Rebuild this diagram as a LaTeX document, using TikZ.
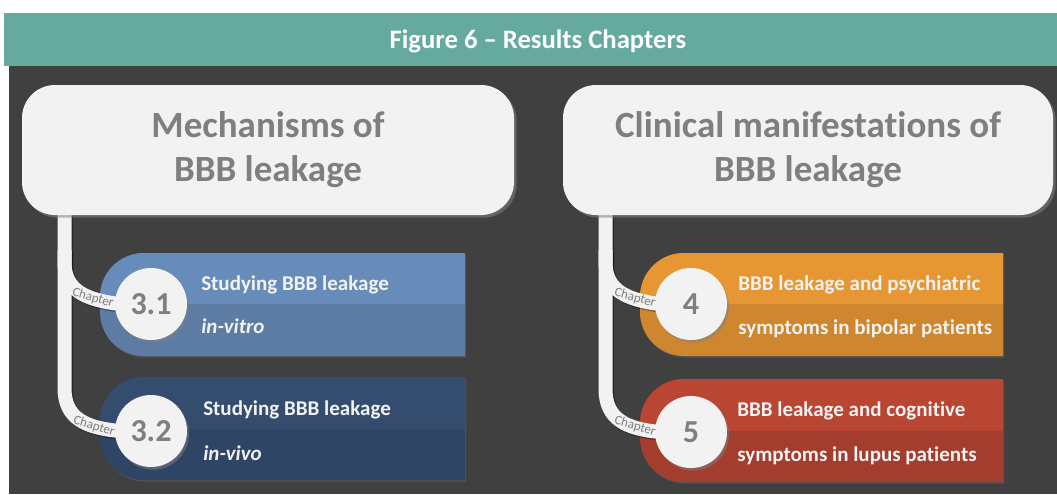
\documentclass[tikz,border=0pt]{standalone}
\usepackage{fontspec}
\setmainfont{Carlito}[Ligatures=NoCommon]
\usetikzlibrary{shadows}

\definecolor{bgdark}{HTML}{404040}
\definecolor{headteal}{HTML}{66A99F}
\definecolor{boxfill}{HTML}{F2F2F2}
\definecolor{boxtext}{HTML}{7F7F7F}
\definecolor{bandtext}{HTML}{F2F2F2}
\definecolor{blueTop}{HTML}{688CB9}
\definecolor{blueBot}{HTML}{5C7CA4}
\definecolor{navyTop}{HTML}{344D6F}
\definecolor{navyBot}{HTML}{2E4565}
\definecolor{orangeTop}{HTML}{E79634}
\definecolor{orangeBot}{HTML}{CF872F}
\definecolor{redTop}{HTML}{B84632}
\definecolor{redBot}{HTML}{A33D2E}

\pgfdeclarelayer{bands}
\pgfdeclarelayer{ribbons}
\pgfsetlayers{bands,ribbons,main}

% outline of a chapter band: rounded on the left, square on the right
% #1 x left, #2 y top, #3 x right, #4 y bottom, #5 corner radius
\newcommand\bandpath[5]{%
  (#3,#2) -- ({#1+#5},#2)
  .. controls ({#1+0.4477*#5},#2) and (#1,{#2+0.4477*#5}) .. (#1,{#2+#5})
  -- (#1,{#4-#5})
  .. controls (#1,{#4-0.4477*#5}) and ({#1+0.4477*#5},#4) .. ({#1+#5},#4)
  -- (#3,#4) -- cycle}

% two-tone band: #1..#4 box, #5 y of the split, #6 upper colour, #7 lower colour
\newcommand\chapband[7]{%
  \fill[#7, bandshadow] \bandpath{#1}{#2}{#3}{#4}{44};
  \begin{scope}
    \clip \bandpath{#1}{#2}{#3}{#4}{44};
    \fill[#6] (#1,#2) rectangle (#3,#5);
  \end{scope}}

\begin{document}
\begin{tikzpicture}[x=0.75pt,y=-0.75pt,
  headline/.style={font=\fontsize{20pt}{24pt}\selectfont\bfseries, text=white, anchor=base, inner sep=0pt},
  bigbox/.style={fill=boxfill, rounded corners=24.75pt, minimum height=97.5pt, inner sep=0pt,
    align=center, text=boxtext, font=\fontsize{27.75pt}{33pt}\selectfont\bfseries,
    drop shadow={opacity=0.55, shadow xshift=2pt, shadow yshift=-2pt}},
  chapcircle/.style={circle, fill=boxfill, minimum size=54pt, inner sep=0pt, text=boxtext,
    font=\fontsize{24pt}{28pt}\selectfont\bfseries,
    drop shadow={opacity=0.5, shadow xshift=1.5pt, shadow yshift=-2pt}},
  chaplabel/.style={text=boxtext, font=\fontsize{9.8pt}{11pt}\selectfont, inner sep=0pt},
  bandtext/.style={text=bandtext, font=\fontsize{15.75pt}{18pt}\selectfont\bfseries,
    anchor=base west, inner sep=0pt},
  bandshadow/.style={drop shadow={opacity=0.3, shadow xshift=0.8pt, shadow yshift=-1.2pt}},
  ribbon/.style={line width=10.5pt, draw=boxfill},
  ribbonshadow/.style={line width=10.5pt, draw=black, opacity=0.35,
    transform canvas={xshift=1.2pt, yshift=-1.2pt}},
]
\useasboundingbox (0,0) rectangle (1057,494);

% page, heading strip and title
\begin{pgfonlayer}{bands}
  \fill[white] (0,0) rectangle (1057,494);
  \fill[bgdark] (9,66) rectangle (1057,494);
  \fill[headteal] (4,13) rectangle (1057,66);
\end{pgfonlayer}
\node[headline] (title) at (538,48) {Figure 6 – Results Chapters};

% section headers
\node[bigbox, minimum width=369pt] (mech) at (268,150) {Mechanisms of\\BBB leakage};
\node[bigbox, minimum width=367.5pt] (clin) at (808,150) {Clinical manifestations of\\BBB leakage};

% chapter numbers
\node[chapcircle] (c31) at (151,304) {3.1};
\node[chapcircle] (c32) at (151,431) {3.2};
\node[chapcircle] (c4) at (691,304) {4};
\node[chapcircle] (c5) at (691,432) {5};

% stem tops, hidden under the header boxes
\coordinate (stemL) at (64.5,200);
\coordinate (stemR) at (605.5,200);

% coloured chapter bands
\begin{pgfonlayer}{bands}
  \chapband{100}{253}{465}{356}{304}{blueTop}{blueBot}
  \chapband{100}{377}{465}{480}{429}{navyTop}{navyBot}
  \chapband{640}{253}{1003}{356}{304}{orangeTop}{orangeBot}
  \chapband{640}{379}{1003}{482}{431}{redTop}{redBot}
\end{pgfonlayer}

% white ribbons from each header down to its chapters
\begin{pgfonlayer}{ribbons}
  \foreach \sty in {ribbonshadow, ribbon} {
    \draw[\sty] (64.5,250) -- (64.5,262) .. controls (64.5,290) and (85,300) .. ([xshift=4pt]c31.west);
    \draw[\sty] (stemL) -- (64.5,388) .. controls (64.5,418) and (85,428) .. ([xshift=4pt]c32.west);
    \draw[\sty] (605.5,250) -- (605.5,262) .. controls (605.5,290) and (626,300) .. ([xshift=4pt]c4.west);
    \draw[\sty] (stemR) -- (605.5,389) .. controls (605.5,419) and (626,429) .. ([xshift=4pt]c5.west);
  }
\end{pgfonlayer}

% ribbon labels
\node[chaplabel, rotate=-16] (l31) at (93,298) {Chapter};
\node[chaplabel, rotate=-17] (l32) at (94,426) {Chapter};
\node[chaplabel, rotate=-16] (l4) at (635,298) {Chapter};
\node[chaplabel, rotate=-17] (l5) at (635,426) {Chapter};

% chapter titles
\node[bandtext] (t31a) at (201,290) {Studying BBB leakage};
\node[bandtext] (t31b) at (201,333) {\itshape in-vitro};
\node[bandtext] (t32a) at (203,415) {Studying BBB leakage};
\node[bandtext] (t32b) at (203,460) {\itshape in-vivo};
\node[bandtext] (t4a) at (738,290) {BBB leakage and psychiatric};
\node[bandtext] (t4b) at (738,334) {symptoms in bipolar patients};
\node[bandtext] (t5a) at (737,416) {BBB leakage and cognitive};
\node[bandtext] (t5b) at (737,461) {symptoms in lupus patients};
\end{tikzpicture}
\end{document}
